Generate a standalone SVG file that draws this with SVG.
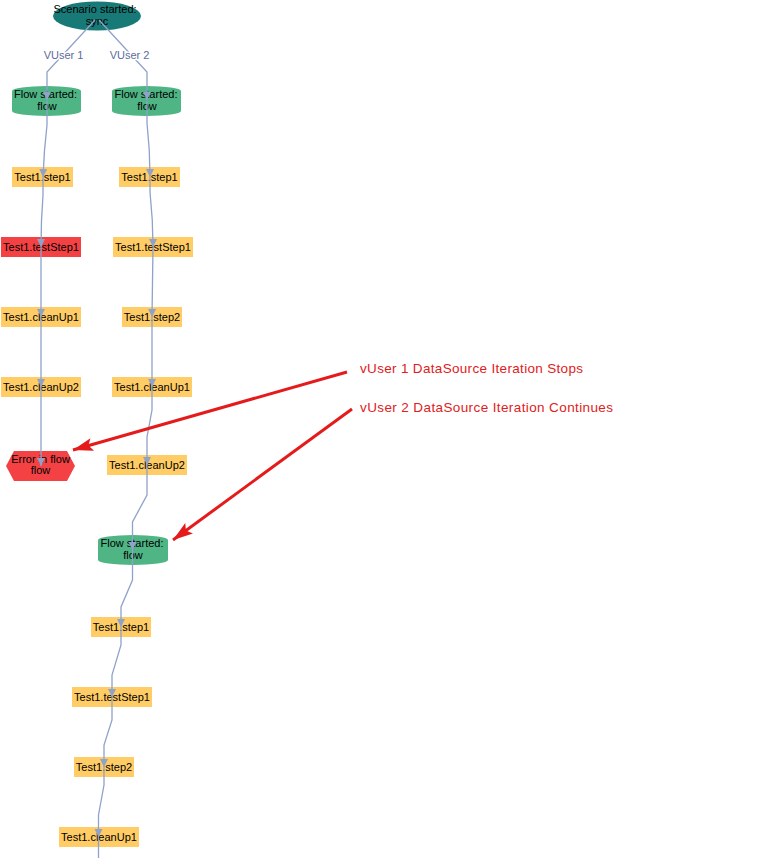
<svg xmlns="http://www.w3.org/2000/svg" width="761" height="858" viewBox="0 0 761 858">
<style>
.lbl{font-family:"Liberation Sans",Arial,sans-serif;font-size:11px;fill:#000;text-anchor:middle}
.box{fill:#ffcc66}
.err{fill:#f44244}
.db{fill:#4fb584}
.edge{fill:none;stroke:#8fa2c9;stroke-width:1.3}
.elbl{font-family:"Liberation Sans",Arial,sans-serif;font-size:11px;fill:#5c6b9c;text-anchor:middle;stroke:#fff;stroke-width:3;paint-order:stroke;stroke-linejoin:round}
.note{fill:none;stroke:#e51b1b;stroke-width:3}
.ntxt{font-family:"Liberation Sans",Arial,sans-serif;font-size:13.5px;fill:#e0201b}
</style>
<defs>
<marker id="ah" markerUnits="userSpaceOnUse" markerWidth="9" markerHeight="9" refX="8" refY="4" orient="auto">
<path d="M0,0 L8,4 L0,8 z" fill="#8fa2c9"/>
</marker>
<marker id="rah" markerUnits="userSpaceOnUse" markerWidth="22" markerHeight="14" refX="20" refY="6.5" orient="auto">
<path d="M0,0 L20,6.5 L0,13 L4,6.5 z" fill="#e51b1b"/>
</marker>
</defs>

<g id="n-scenario">
<ellipse cx="97" cy="16" rx="44" ry="14.5" fill="#187a76"/>
<text class="lbl" x="95" y="13">Scenario started:</text>
<text class="lbl" x="97" y="24.5">sync</text>
</g>

<g id="n-flow1">
<path class="db" d="M12,91 A34.5,5 0 0 1 81,91 L81,111 A34.5,5 0 0 1 12,111 Z"/>
<text class="lbl" x="45.5" y="98">Flow started:</text>
<text class="lbl" x="47" y="109.5">flow</text>
</g>
<g id="n-l-step1">
<rect class="box" x="12" y="167" width="61" height="20"/>
<text class="lbl" x="42.5" y="181">Test1.step1</text>
</g>
<g id="n-l-testStep1">
<rect class="err" x="1" y="237" width="80" height="20"/>
<text class="lbl" x="41" y="251">Test1.testStep1</text>
</g>
<g id="n-l-cleanUp1">
<rect class="box" x="1" y="307" width="80" height="20"/>
<text class="lbl" x="41" y="321">Test1.cleanUp1</text>
</g>
<g id="n-l-cleanUp2">
<rect class="box" x="1" y="377" width="80" height="20"/>
<text class="lbl" x="41" y="391">Test1.cleanUp2</text>
</g>
<g id="n-l-error">
<polygon class="err" points="6,466 14,451 67,451 75,466 67,481 14,481"/>
<text class="lbl" x="40.5" y="462.5">Error in flow</text>
<text class="lbl" x="40.5" y="474">flow</text>
</g>

<g id="n-flow2">
<path class="db" d="M112,91 A34.5,5 0 0 1 181,91 L181,111 A34.5,5 0 0 1 112,111 Z"/>
<text class="lbl" x="146" y="98">Flow started:</text>
<text class="lbl" x="147" y="109.5">flow</text>
</g>
<g id="n-r-step1">
<rect class="box" x="119" y="167" width="61" height="20"/>
<text class="lbl" x="149.5" y="181">Test1.step1</text>
</g>
<g id="n-r-testStep1">
<rect class="box" x="113" y="237" width="80" height="20"/>
<text class="lbl" x="153" y="251">Test1.testStep1</text>
</g>
<g id="n-r-step2">
<rect class="box" x="122" y="307" width="60" height="20"/>
<text class="lbl" x="152" y="321">Test1.step2</text>
</g>
<g id="n-r-cleanUp1">
<rect class="box" x="112" y="377" width="80" height="20"/>
<text class="lbl" x="152" y="391">Test1.cleanUp1</text>
</g>
<g id="n-r-cleanUp2">
<rect class="box" x="107" y="455" width="80" height="20"/>
<text class="lbl" x="147" y="469">Test1.cleanUp2</text>
</g>
<g id="n-flow3">
<path class="db" d="M98,540 A35,5 0 0 1 168,540 L168,560 A35,5 0 0 1 98,560 Z"/>
<text class="lbl" x="132" y="547">Flow started:</text>
<text class="lbl" x="133" y="558.5">flow</text>
</g>
<g id="n-r2-step1">
<rect class="box" x="91" y="617" width="60" height="20"/>
<text class="lbl" x="121" y="631">Test1.step1</text>
</g>
<g id="n-r2-testStep1">
<rect class="box" x="72" y="687" width="80" height="20"/>
<text class="lbl" x="112" y="701">Test1.testStep1</text>
</g>
<g id="n-r2-step2">
<rect class="box" x="74" y="757" width="60" height="20"/>
<text class="lbl" x="104" y="771">Test1.step2</text>
</g>
<g id="n-r2-cleanUp1">
<rect class="box" x="59" y="827" width="80" height="20"/>
<text class="lbl" x="99" y="841">Test1.cleanUp1</text>
</g>

<g id="connectors">
<path class="edge" marker-end="url(#ah)" d="M95,20 L47,72 L47,100"/>
<path class="edge" marker-end="url(#ah)" d="M99,20 L147,72 L147,100"/>
<text class="elbl" x="63.5" y="59">VUser 1</text>
<text class="elbl" x="129.5" y="59">VUser 2</text>

<path class="edge" marker-end="url(#ah)" d="M47,101 L47,125 Q44,150 43,177"/>
<path class="edge" marker-end="url(#ah)" d="M43,177 L43,195 Q41,220 41,247"/>
<path class="edge" marker-end="url(#ah)" d="M41,247 L41,317"/>
<path class="edge" marker-end="url(#ah)" d="M41,317 L41,387"/>
<path class="edge" marker-end="url(#ah)" d="M41,387 L41,466"/>

<path class="edge" marker-end="url(#ah)" d="M147,101 L147,123 Q150,150 150,177"/>
<path class="edge" marker-end="url(#ah)" d="M150,177 L150,192 Q153,220 153,247"/>
<path class="edge" marker-end="url(#ah)" d="M153,247 L152,317"/>
<path class="edge" marker-end="url(#ah)" d="M152,317 L152,387"/>
<path class="edge" marker-end="url(#ah)" d="M152,387 L152,410 L147,437 L147,465"/>
<path class="edge" marker-end="url(#ah)" d="M147,465 L147,495 L132.5,522 L132.5,550"/>
<path class="edge" marker-end="url(#ah)" d="M132.5,550 L132.5,580 L121,607 L121,627"/>
<path class="edge" marker-end="url(#ah)" d="M121,627 L121,645 L112,675 L112,697"/>
<path class="edge" marker-end="url(#ah)" d="M112,697 L112,720 L104,745 L104,767"/>
<path class="edge" marker-end="url(#ah)" d="M104,767 L104,785 L98.5,815 L98.5,837"/>
<path class="edge" d="M98.5,837 L98.5,858"/>

<path class="note" marker-end="url(#rah)" d="M347,372 L73,450"/>
<path class="note" marker-end="url(#rah)" d="M352,409 L173,540"/>
</g>

<text class="ntxt" x="360" y="373" textLength="223" lengthAdjust="spacing">vUser 1 DataSource Iteration Stops</text>
<text class="ntxt" x="360" y="412" textLength="253" lengthAdjust="spacing">vUser 2 DataSource Iteration Continues</text>
</svg>
